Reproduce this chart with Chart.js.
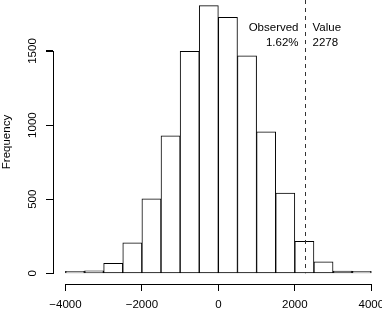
<!DOCTYPE html>
<html>
<head>
<meta charset="utf-8">
<script src="https://cdn.jsdelivr.net/npm/chart.js@4"></script>
<style>
html, body { margin: 0; padding: 0; background: #fff; }
#wrap { width: 382px; height: 314px; }
</style>
</head>
<body>
<div id="wrap"><canvas id="myChart"></canvas></div>
<script>
// histogram bins (centres, width 500) and frequencies
var binCenters = [-3750, -3250, -2750, -2250, -1750, -1250, -750, -250, 250, 750, 1250, 1750, 2250, 2750, 3250, 3750];
var counts = [4, 17, 68, 206, 503, 928, 1497, 1806, 1727, 1468, 955, 542, 216, 77, 15, 3];
var xTicks = [-4000, -2000, 0, 2000, 4000];
var yTicks = [0, 500, 1000, 1500];
var observedValue = 2278;
var observedPct = '1.62%';

var FONT = { family: '"Liberation Sans", Arial, sans-serif', size: 11.5 };

function fmt(v) {
  return v < 0 ? '\u2212' + (-v) : String(v);
}

var extras = {
  id: 'extras',
  afterDraw: function(chart) {
    var ctx = chart.ctx;
    var xs = chart.scales.x, ys = chart.scales.y;
    var a = chart.chartArea;
    ctx.save();
    ctx.fillStyle = '#000';
    // R style axis lines, only over the tick range
    var xa = xs.getPixelForValue(xTicks[0]);
    var xb = xs.getPixelForValue(xTicks[xTicks.length - 1]);
    ctx.fillRect(Math.round(xa), Math.floor(a.bottom), Math.round(xb) - Math.round(xa) + 1, 1);
    var y0 = ys.getPixelForValue(yTicks[0]);
    var y1 = ys.getPixelForValue(yTicks[yTicks.length - 1]);
    ctx.fillRect(Math.floor(a.left), Math.round(y1), 1, Math.round(y0) - Math.round(y1) + 1);
    // tick marks on y
    yTicks.forEach(function(v) {
      ctx.fillRect(Math.floor(a.left) - 7, Math.round(ys.getPixelForValue(v)), 7, 1);
    });

    // observed value line
    var ox = Math.round(xs.getPixelForValue(observedValue)) + 0.5;
    ctx.strokeStyle = '#333';
    ctx.lineWidth = 1;
    ctx.setLineDash([4, 4]);
    ctx.beginPath();
    ctx.moveTo(ox, a.top);
    ctx.lineTo(ox, ys.getPixelForValue(0));
    ctx.stroke();
    ctx.setLineDash([]);

    ctx.font = FONT.size + 'px ' + FONT.family;
    ctx.textBaseline = 'alphabetic';
    ctx.textAlign = 'right';
    ctx.fillText('Observed', ox - 7, a.top + 31);
    ctx.fillText(observedPct, ox - 7, a.top + 46);
    ctx.textAlign = 'left';
    ctx.fillText('Value', ox + 7, a.top + 31);
    ctx.fillText(String(observedValue), ox + 7, a.top + 46);
    ctx.restore();
  }
};

var data = binCenters.map(function(c, i) { return { x: c, y: counts[i] }; });

var ctx = document.getElementById('myChart').getContext('2d');
var myChart = new Chart(ctx, {
  type: 'bar',
  data: {
    datasets: [{
      data: data,
      backgroundColor: '#fff',
      borderColor: '#000',
      borderWidth: 1,
      borderSkipped: false,
      minBarLength: 2,
      barPercentage: 1,
      categoryPercentage: 1,
      grouped: false
    }]
  },
  options: {
    responsive: true,
    maintainAspectRatio: false,
    animation: false,
    layout: { padding: 0 },
    plugins: { legend: { display: false }, tooltip: { enabled: false } },
    scales: {
      x: {
        type: 'linear',
        offset: false,
        min: -4325,
        max: 4280,
        afterBuildTicks: function(s) { s.ticks = xTicks.map(function(v) { return { value: v }; }); },
        afterFit: function(s) { s.height = 30; s.paddingLeft = 0; s.paddingRight = 0; },
        ticks: { font: FONT, color: '#000', padding: 7, maxRotation: 0, autoSkip: false, callback: fmt },
        grid: { offset: false, drawOnChartArea: false, tickLength: 7, color: '#000' },
        border: { display: false }
      },
      y: {
        min: -72,
        max: 1844,
        afterBuildTicks: function(s) { s.ticks = yTicks.map(function(v) { return { value: v }; }); },
        afterFit: function(s) { s.width = 53; s.paddingTop = 0; s.paddingBottom = 0; },
        ticks: { font: FONT, color: '#000', padding: 0, minRotation: 90, maxRotation: 90, crossAlign: 'center', autoSkip: false, callback: fmt },
        grid: { drawOnChartArea: false, tickLength: 7, color: '#000' },
        border: { display: false },
        title: { display: true, text: 'Frequency', color: '#000', font: FONT, padding: 0 }
      }
    }
  },
  plugins: [extras]
});
</script>
</body>
</html>
